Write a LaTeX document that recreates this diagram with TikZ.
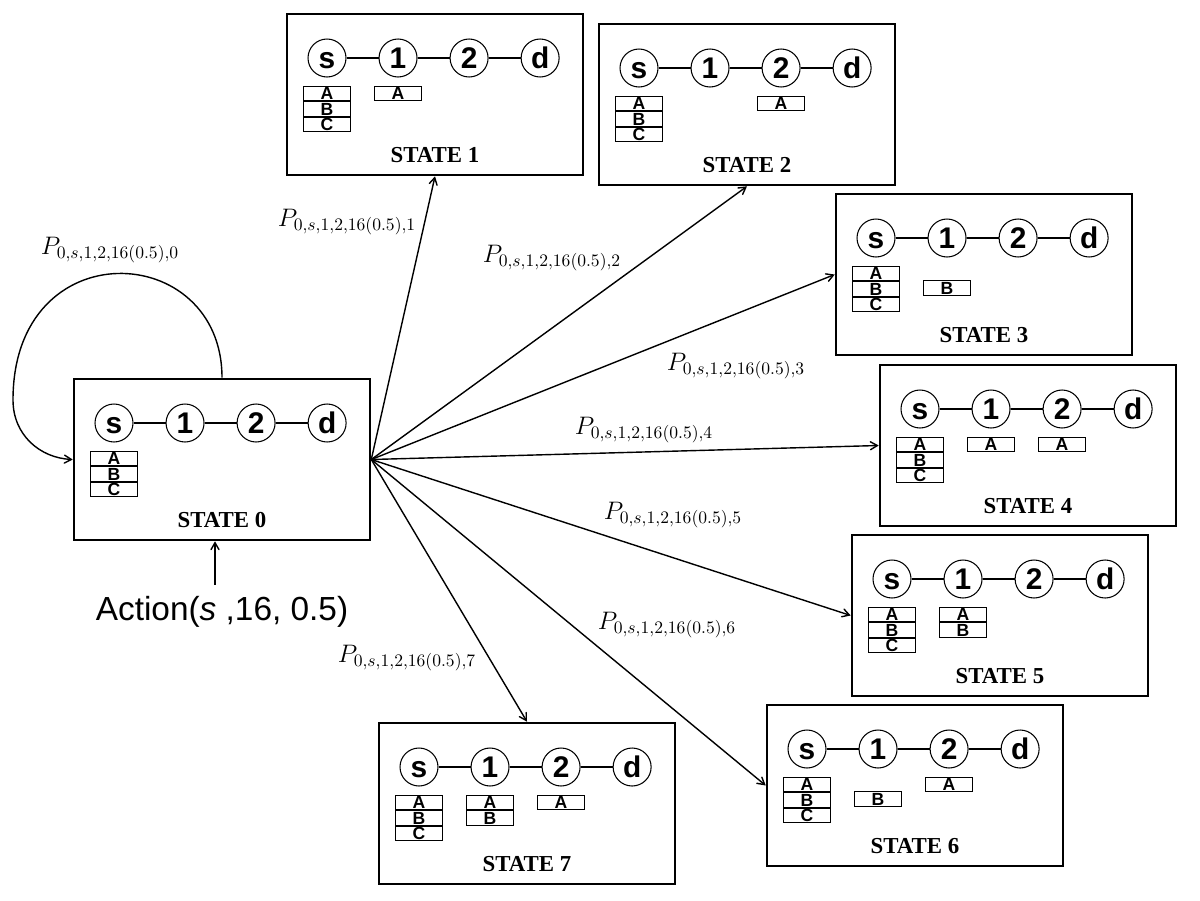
\documentclass[tikz,border=0pt]{standalone}
\usepackage{fontspec}
\setmainfont{Liberation Serif}
\setsansfont{Liberation Sans}
\usetikzlibrary{arrows,positioning}

\begin{document}
\begin{tikzpicture}[->, >=angle 60, line width=0.8pt, x=0.02cm, y=-0.02cm]
    \tikzstyle{statebox}=[draw, line width=1.5pt, minimum width=5.92cm, minimum height=3.22cm, inner sep=0pt]
    \tikzstyle{hop}=[circle, draw, line width=0.6pt, minimum size=0.76cm, inner sep=0pt, text height=12pt, text depth=0pt, font=\sffamily\bfseries\fontsize{17}{17}\selectfont]
    \tikzstyle{pkt}=[draw, line width=0.6pt, minimum width=0.94cm, minimum height=0.29cm, inner sep=0pt, text height=7.2pt, text depth=0pt, font=\sffamily\bfseries\fontsize{10}{10}\selectfont]
    \tikzstyle{prob}=[font=\fontsize{14.5}{14.5}\selectfont]
    \tikzstyle{title}=[font=\bfseries\fontsize{13}{13}\selectfont]

    \useasboundingbox (0,0) rectangle (1200,900);

    % state boxes: id / left / top
    \foreach \n/\x/\y in {0/74/379, 1/287/14, 2/599/24, 3/836/194, 4/880/365, 5/852/535, 6/767/705, 7/379/723}{
        \node[statebox] (st\n) at (\x+148,\y+80.5) {};
        \node[hop] (s\n) at (\x+40,\y+44) {s};
        \node[hop, right=0.64cm of s\n] (one\n) {1};
        \node[hop, right=0.64cm of one\n] (two\n) {2};
        \node[hop, right=0.64cm of two\n] (d\n) {d};
        \draw[-, line width=0.6pt] (s\n) -- (one\n) -- (two\n) -- (d\n);
        % packets at source
        \node[pkt, below=0.16cm of s\n] (sa\n) {A};
        \node[pkt, below=0cm of sa\n] (sb\n) {B};
        \node[pkt, below=0cm of sb\n] (sc\n) {C};
        \node[title] (lab\n) at (\x+148,\y+141) {STATE \n};
    }

    % packets on the way
    \node[pkt, below=0.16cm of one1] (a1) {A};
    \node[pkt, below=0.16cm of two2] (a2) {A};
    \node[pkt, below=0.45cm of one3] (b3) {B};
    \node[pkt, below=0.16cm of one4] (a4) {A};
    \node[pkt, below=0.16cm of two4] (aa4) {A};
    \node[pkt, below=0.16cm of one5] (a5) {A};
    \node[pkt, below=0cm of a5] (b5) {B};
    \node[pkt, below=0.45cm of one6] (b6) {B};
    \node[pkt, below=0.16cm of two6] (a6) {A};
    \node[pkt, below=0.16cm of one7] (a7) {A};
    \node[pkt, below=0cm of a7] (b7) {B};
    \node[pkt, below=0.16cm of two7] (aa7) {A};

    % transitions
    \draw (st0.north) .. controls (222,240) and (13,230) .. (13,400)
        .. controls (13,435) and (40,458) .. (st0.west);
    \foreach \t/\a in {1/south, 2/south, 3/west, 4/west, 5/west, 6/west, 7/north}
        \draw (st0.east) -- (st\t.\a);

    % probabilities
    \node[prob] (p0) at (110,250) {$P_{0,s,1,2,16(0.5),0}$};
    \node[prob] (p1) at (347,222) {$P_{0,s,1,2,16(0.5),1}$};
    \node[prob] (p2) at (552,258) {$P_{0,s,1,2,16(0.5),2}$};
    \node[prob] (p3) at (736,366) {$P_{0,s,1,2,16(0.5),3}$};
    \node[prob] (p4) at (644,430) {$P_{0,s,1,2,16(0.5),4}$};
    \node[prob] (p5) at (673,515) {$P_{0,s,1,2,16(0.5),5}$};
    \node[prob] (p6) at (667,625) {$P_{0,s,1,2,16(0.5),6}$};
    \node[prob] (p7) at (407,658) {$P_{0,s,1,2,16(0.5),7}$};

    % action
    \node[font=\sffamily\fontsize{19}{19}\selectfont] (act) at (222,612) {Action(\textit{s} ,16, 0.5)};
    \draw ([xshift=-0.14cm,yshift=0.1cm]act.north) -- ([xshift=-0.14cm]st0.south);
\end{tikzpicture}
\end{document}
